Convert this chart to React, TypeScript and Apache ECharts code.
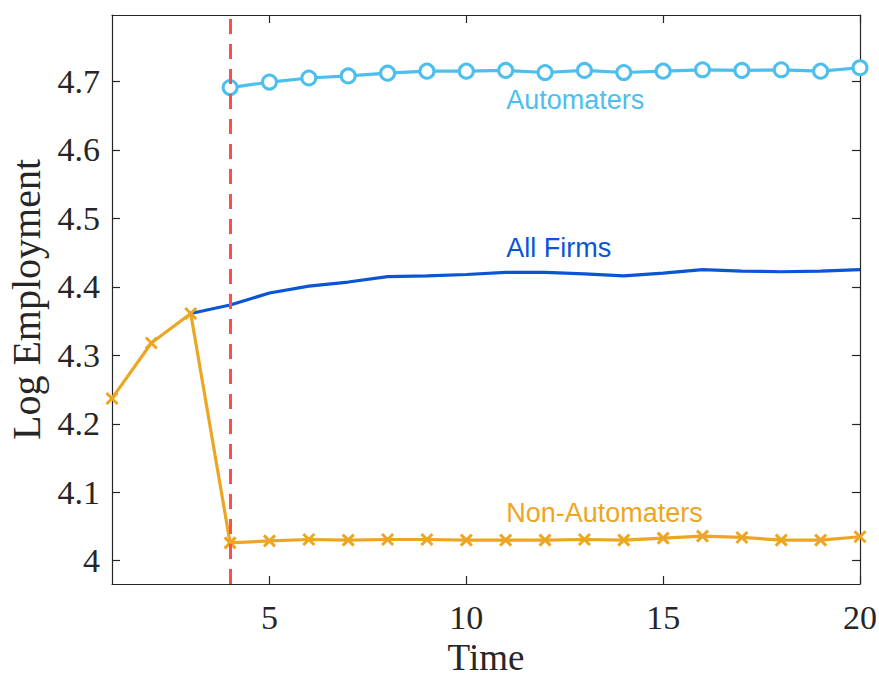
import React, { useEffect, useRef } from "react";
import * as echarts from "echarts";

const periods = [1, 2, 3, 4, 5, 6, 7, 8, 9, 10, 11, 12, 13, 14, 15, 16, 17, 18, 19, 20];
const nonAutomaters = [4.237, 4.318, 4.361, 4.026, 4.029, 4.031, 4.030, 4.031, 4.031, 4.030, 4.030, 4.030, 4.031, 4.030, 4.033, 4.036, 4.034, 4.030, 4.030, 4.035];
const automaters = [null, null, null, 4.691, 4.699, 4.705, 4.708, 4.712, 4.715, 4.715, 4.716, 4.713, 4.716, 4.713, 4.715, 4.717, 4.716, 4.717, 4.715, 4.720];
const allFirms = [null, null, 4.361, 4.3735, 4.391, 4.401, 4.407, 4.415, 4.416, 4.418, 4.421, 4.421, 4.419, 4.416, 4.420, 4.425, 4.423, 4.422, 4.423, 4.425];
const xTicks = [5, 10, 15, 20];
const yTicks = [4, 4.1, 4.2, 4.3, 4.4, 4.5, 4.6, 4.7];
const yTickLabels = ["4", "4.1", "4.2", "4.3", "4.4", "4.5", "4.6", "4.7"];
const treatmentTime = 4;
const seriesNames = ["Non-Automaters", "All Firms", "Automaters"];

const AXIS_COLOR = "#262626";
const SERIF = "'Liberation Serif', 'Times New Roman', serif";
const SANS = "'Liberation Sans', Arial, sans-serif";
const C_ORANGE = "#EDA524";
const C_BLUE = "#0A55D6";
const C_LIGHT = "#4DBEEE";
const C_RED = "#FF4D4D";

const X_MIN = 1, X_MAX = 20, Y_MIN = 3.966, Y_MAX = 4.797;

function pairs(vals: (number | null)[]) {
  return periods.map((t, i) => [t, vals[i]]);
}

function labelPoint(text: string, x: number, y: number, color: string) {
  return {
    symbol: "circle",
    symbolSize: 1,
    silent: true,
    itemStyle: { color: "rgba(0,0,0,0)" },
    label: { show: false },
    data: [
      {
        coord: [x, y],
        label: {
          show: true,
          position: "right",
          distance: 0,
          formatter: text,
          color,
          fontFamily: SANS,
          fontSize: 27,
        },
      },
    ],
  };
}

export default function App() {
  const ref = useRef<HTMLDivElement>(null);
  useEffect(() => {
    if (!ref.current) return;
    const chart = echarts.init(ref.current, undefined, { renderer: "svg" });
    const baseX = {
      type: "value",
      min: X_MIN,
      max: X_MAX,
      axisLine: { show: true, lineStyle: { color: AXIS_COLOR, width: 1.2 } },
      axisTick: { show: true, inside: true, length: 8, customValues: xTicks, lineStyle: { color: AXIS_COLOR, width: 1.2 } },
      splitLine: { show: false },
    };
    const baseY = {
      type: "value",
      min: Y_MIN,
      max: Y_MAX,
      axisLine: { show: true, lineStyle: { color: AXIS_COLOR, width: 1.2 } },
      axisTick: { show: true, inside: true, length: 8, customValues: yTicks, lineStyle: { color: AXIS_COLOR, width: 1.2 } },
      splitLine: { show: false },
    };
    chart.setOption({
      animation: false,
      backgroundColor: "#ffffff",
      grid: { left: 112, top: 15, right: 19, bottom: 93, containLabel: false, outerBoundsMode: "none" },
      xAxis: [
        {
          ...baseX,
          position: "bottom",
          name: "Time",
          nameLocation: "middle",
          nameGap: 52,
          nameTextStyle: { color: AXIS_COLOR, fontFamily: SERIF, fontSize: 37 },
          axisLabel: {
            show: true,
            customValues: xTicks,
            margin: 16,
            color: AXIS_COLOR,
            fontFamily: SERIF,
            fontSize: 34,
            formatter: (v: number) => String(v),
          },
        },
        { ...baseX, position: "top", axisLabel: { show: false } },
      ],
      yAxis: [
        {
          ...baseY,
          position: "left",
          name: "Log Employment",
          nameLocation: "middle",
          nameRotate: 90,
          nameGap: 62,
          nameTextStyle: { color: AXIS_COLOR, fontFamily: SERIF, fontSize: 40 },
          axisLabel: {
            show: true,
            customValues: yTicks,
            margin: 12,
            color: AXIS_COLOR,
            fontFamily: SERIF,
            fontSize: 34,
            formatter: (v: number) => yTickLabels[yTicks.findIndex((t) => Math.abs(t - v) < 1e-6)] ?? String(v),
          },
        },
        { ...baseY, position: "right", axisLabel: { show: false } },
      ],
      series: [
        {
          type: "line",
          name: "treatment",
          data: [],
          markLine: {
            silent: true,
            symbol: "none",
            label: { show: false },
            lineStyle: { color: C_RED, width: 3, type: [15, 10] },
            data: [{ xAxis: treatmentTime }],
          },
        },
        {
          type: "line",
          name: seriesNames[0],
          data: pairs(nonAutomaters),
          connectNulls: false,
          lineStyle: { color: C_ORANGE, width: 3.2 },
          symbol: "path://M0,0L10,10M10,0L0,10",
          symbolSize: 11,
          showAllSymbol: true,
          itemStyle: { color: "rgba(0,0,0,0)", borderColor: C_ORANGE, borderWidth: 3 },
          markPoint: labelPoint(seriesNames[0], 11, 4.069, C_ORANGE),
        },
        {
          type: "line",
          name: seriesNames[1],
          data: pairs(allFirms),
          connectNulls: false,
          showSymbol: false,
          symbol: "none",
          lineStyle: { color: C_BLUE, width: 3.2 },
          itemStyle: { color: C_BLUE },
          markPoint: labelPoint(seriesNames[1], 11, 4.457, C_BLUE),
        },
        {
          type: "line",
          name: seriesNames[2],
          data: pairs(automaters),
          connectNulls: false,
          lineStyle: { color: C_LIGHT, width: 3.2 },
          symbol: "circle",
          symbolSize: 14,
          showAllSymbol: true,
          itemStyle: { color: "#ffffff", borderColor: C_LIGHT, borderWidth: 3 },
          markPoint: labelPoint(seriesNames[2], 11, 4.673, C_LIGHT),
        },
      ],
    });
    return () => chart.dispose();
  }, []);
  return <div ref={ref} style={{ width: 879, height: 677, position: "absolute", left: 0, top: 0 }} />;
}
